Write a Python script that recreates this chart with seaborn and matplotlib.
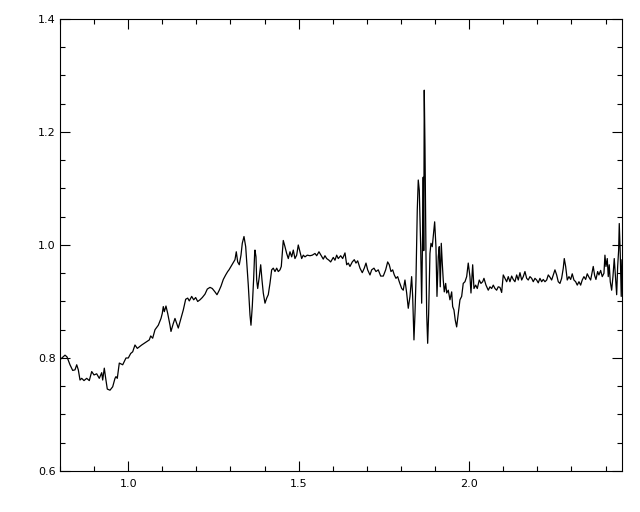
import numpy as np
import pandas as pd
import seaborn as sns
import matplotlib
matplotlib.use('Agg')
import matplotlib.pyplot as plt
from matplotlib.ticker import MultipleLocator, FormatStrFormatter


sns.set_style('ticks')
plt.rcParams['font.family'] = ['DejaVu Sans']

# spectrum (wavelength, flux)
wavelength = [
    0.8000, 0.8147, 0.8205, 0.8293, 0.8372, 0.8440, 0.8490, 0.8537, 0.8587, 0.8636,
    0.8704, 0.8783, 0.8859, 0.8930, 0.8997, 0.9076, 0.9152, 0.9223, 0.9252, 0.9299,
    0.9340, 0.9387, 0.9466, 0.9545, 0.9613, 0.9642, 0.9680, 0.9739, 0.9839, 0.9935,
    1.0003, 1.0073, 1.0132, 1.0199, 1.0267, 1.0396, 1.0543, 1.0619, 1.0660, 1.0718,
    1.0786, 1.0883, 1.0962, 1.1000, 1.1029, 1.1059, 1.1108, 1.1158, 1.1226, 1.1255,
    1.1322, 1.1372, 1.1422, 1.1469, 1.1548, 1.1616, 1.1686, 1.1745, 1.1792, 1.1862,
    1.1921, 1.1979, 1.2038, 1.2106, 1.2173, 1.2252, 1.2320, 1.2399, 1.2466, 1.2545,
    1.2604, 1.2663, 1.2721, 1.2789, 1.2859, 1.2918, 1.2956, 1.3015, 1.3082, 1.3132,
    1.3170, 1.3211, 1.3258, 1.3308, 1.3346, 1.3396, 1.3446, 1.3484, 1.3522, 1.3572,
    1.3601, 1.3639, 1.3680, 1.3710, 1.3718, 1.3748, 1.3768, 1.3798, 1.3845, 1.3886,
    1.3924, 1.3962, 1.4012, 1.4062, 1.4108, 1.4158, 1.4208, 1.4255, 1.4305, 1.4355,
    1.4402, 1.4452, 1.4490, 1.4519, 1.4548, 1.4598, 1.4648, 1.4695, 1.4745, 1.4795,
    1.4842, 1.4891, 1.4941, 1.4988, 1.5038, 1.5088, 1.5135, 1.5185, 1.5252, 1.5331,
    1.5399, 1.5478, 1.5528, 1.5595, 1.5654, 1.5721, 1.5771, 1.5821, 1.5889, 1.5938,
    1.6015, 1.6064, 1.6114, 1.6161, 1.6232, 1.6290, 1.6358, 1.6408, 1.6455, 1.6504,
    1.6572, 1.6630, 1.6680, 1.6730, 1.6798, 1.6865, 1.6924, 1.6974, 1.7023, 1.7091,
    1.7141, 1.7208, 1.7267, 1.7334, 1.7405, 1.7481, 1.7551, 1.7610, 1.7657, 1.7707,
    1.7757, 1.7804, 1.7853, 1.7903, 1.7950, 1.8021, 1.8067, 1.8117, 1.8167, 1.8214,
    1.8264, 1.8313, 1.8343, 1.8381, 1.8411, 1.8440, 1.8478, 1.8507, 1.8537, 1.8578,
    1.8607, 1.8636, 1.8652, 1.8668, 1.8683, 1.8704, 1.8733, 1.8754, 1.8783, 1.8812,
    1.8850, 1.8880, 1.8918, 1.8947, 1.8988, 1.9026, 1.9056, 1.9094, 1.9123, 1.9152,
    1.9182, 1.9211, 1.9240, 1.9270, 1.9311, 1.9340, 1.9387, 1.9437, 1.9487, 1.9516,
    1.9554, 1.9592, 1.9633, 1.9680, 1.9730, 1.9780, 1.9826, 1.9877, 1.9927, 1.9973,
    2.0023, 2.0053, 2.0103, 2.0141, 2.0191, 2.0238, 2.0296, 2.0346, 2.0396, 2.0434,
    2.0493, 2.0560, 2.0610, 2.0660, 2.0707, 2.0757, 2.0806, 2.0853, 2.0903, 2.0953,
    2.1000, 2.1050, 2.1100, 2.1147, 2.1196, 2.1246, 2.1293, 2.1343, 2.1393, 2.1440,
    2.1490, 2.1540, 2.1587, 2.1636, 2.1686, 2.1733, 2.1783, 2.1833, 2.1880, 2.1930,
    2.1979, 2.2026, 2.2076, 2.2126, 2.2173, 2.2223, 2.2273, 2.2320, 2.2370, 2.2419,
    2.2466, 2.2516, 2.2566, 2.2613, 2.2663, 2.2712, 2.2760, 2.2789, 2.2830, 2.2877,
    2.2927, 2.2977, 2.3023, 2.3073, 2.3123, 2.3170, 2.3220, 2.3270, 2.3316, 2.3366,
    2.3416, 2.3463, 2.3513, 2.3563, 2.3609, 2.3639, 2.3680, 2.3718, 2.3768, 2.3806,
    2.3856, 2.3903, 2.3953, 2.3982, 2.4012, 2.4050, 2.4079, 2.4108, 2.4138, 2.4179,
    2.4217, 2.4255, 2.4284, 2.4326, 2.4355, 2.4384, 2.4402, 2.4431, 2.4460, 2.4480,
]
flux = [
    0.797, 0.805, 0.802, 0.788, 0.778, 0.779, 0.788, 0.779, 0.761, 0.764,
    0.760, 0.764, 0.760, 0.776, 0.770, 0.772, 0.764, 0.774, 0.761, 0.782,
    0.764, 0.745, 0.743, 0.749, 0.764, 0.767, 0.764, 0.791, 0.788, 0.800,
    0.800, 0.808, 0.811, 0.823, 0.817, 0.823, 0.829, 0.832, 0.839, 0.835,
    0.850, 0.858, 0.870, 0.879, 0.891, 0.882, 0.892, 0.879, 0.858, 0.847,
    0.861, 0.870, 0.861, 0.853, 0.870, 0.885, 0.904, 0.906, 0.901, 0.909,
    0.903, 0.907, 0.900, 0.903, 0.907, 0.913, 0.922, 0.925, 0.923, 0.917,
    0.912, 0.919, 0.927, 0.939, 0.947, 0.953, 0.956, 0.962, 0.969, 0.974,
    0.988, 0.970, 0.965, 0.982, 1.003, 1.015, 0.997, 0.962, 0.929, 0.876,
    0.858, 0.891, 0.941, 0.988, 0.991, 0.979, 0.938, 0.923, 0.944, 0.965,
    0.938, 0.915, 0.897, 0.906, 0.912, 0.932, 0.956, 0.959, 0.953, 0.959,
    0.953, 0.956, 0.962, 0.985, 1.008, 0.997, 0.985, 0.976, 0.988, 0.979,
    0.991, 0.976, 0.982, 1.000, 0.988, 0.976, 0.982, 0.979, 0.982, 0.981,
    0.982, 0.985, 0.981, 0.988, 0.982, 0.975, 0.981, 0.976, 0.973, 0.970,
    0.978, 0.973, 0.982, 0.976, 0.981, 0.976, 0.986, 0.965, 0.968, 0.962,
    0.970, 0.974, 0.968, 0.972, 0.959, 0.951, 0.959, 0.968, 0.956, 0.947,
    0.956, 0.959, 0.953, 0.956, 0.945, 0.945, 0.956, 0.970, 0.965, 0.953,
    0.956, 0.947, 0.941, 0.944, 0.935, 0.923, 0.920, 0.938, 0.915, 0.888,
    0.909, 0.944, 0.909, 0.832, 0.879, 0.938, 1.062, 1.115, 1.097, 0.997,
    0.897, 1.027, 1.120, 0.990, 1.274, 1.174, 0.985, 0.879, 0.826, 0.879,
    0.985, 1.003, 0.997, 1.015, 1.041, 0.997, 0.909, 0.979, 0.997, 0.926,
    1.003, 0.968, 0.938, 0.917, 0.932, 0.915, 0.920, 0.903, 0.917, 0.891,
    0.885, 0.867, 0.855, 0.879, 0.903, 0.909, 0.932, 0.935, 0.944, 0.968,
    0.944, 0.915, 0.965, 0.923, 0.929, 0.923, 0.938, 0.932, 0.935, 0.941,
    0.929, 0.920, 0.926, 0.923, 0.929, 0.923, 0.920, 0.926, 0.925, 0.916,
    0.947, 0.941, 0.935, 0.944, 0.935, 0.945, 0.939, 0.935, 0.947, 0.938,
    0.951, 0.938, 0.944, 0.953, 0.941, 0.938, 0.944, 0.941, 0.935, 0.941,
    0.938, 0.933, 0.941, 0.935, 0.939, 0.935, 0.938, 0.947, 0.943, 0.938,
    0.947, 0.956, 0.947, 0.935, 0.932, 0.941, 0.959, 0.976, 0.962, 0.938,
    0.944, 0.939, 0.949, 0.938, 0.935, 0.929, 0.935, 0.929, 0.938, 0.944,
    0.939, 0.949, 0.943, 0.938, 0.953, 0.962, 0.946, 0.939, 0.953, 0.947,
    0.955, 0.944, 0.950, 0.982, 0.962, 0.976, 0.944, 0.965, 0.935, 0.920,
    0.944, 0.976, 0.950, 0.912, 0.962, 0.991, 1.038, 0.985, 0.909, 0.974,
]


def main():
    df = pd.DataFrame({'wavelength': wavelength, 'flux': flux})

    fig = plt.figure(figsize=(6.4, 5.12), dpi=100)
    ax = fig.add_axes([0.09375, 0.0801, 0.878, 0.8828])
    sns.lineplot(x='wavelength', y='flux', data=df, ax=ax, color='black',
                 linewidth=0.9, sort=False, estimator=None)

    ax.set_xlim(0.8, 2.448)
    ax.set_ylim(0.6, 1.4)
    ax.xaxis.set_major_locator(MultipleLocator(0.5))
    ax.xaxis.set_minor_locator(MultipleLocator(0.1))
    ax.yaxis.set_major_locator(MultipleLocator(0.2))
    ax.yaxis.set_minor_locator(MultipleLocator(0.05))
    ax.xaxis.set_major_formatter(FormatStrFormatter('%.1f'))
    ax.yaxis.set_major_formatter(FormatStrFormatter('%.1f'))
    ax.tick_params(which='both', direction='in', top=True, right=True,
                   width=0.8, labelsize=8, colors='black')
    ax.tick_params(which='major', length=7)
    ax.tick_params(which='minor', length=3.6)
    ax.tick_params(axis='x', which='major', pad=6)
    ax.tick_params(axis='y', which='major', pad=3)
    for sp in ax.spines.values():
        sp.set_visible(True)
        sp.set_linewidth(0.8)
        sp.set_color('black')
    ax.set_xlabel('')
    ax.set_ylabel('')
    plt.savefig('out.png', dpi=100, facecolor='white')
    plt.close()


if __name__ == '__main__':
    main()
